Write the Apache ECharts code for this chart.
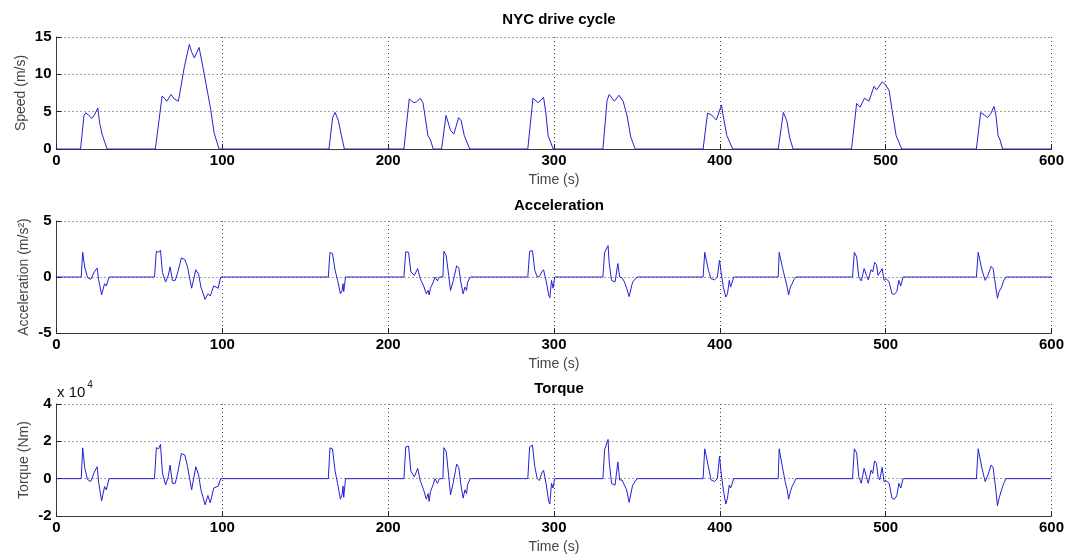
<!DOCTYPE html>
<html><head><meta charset="utf-8">
<script src="https://cdn.jsdelivr.net/npm/echarts@6/dist/echarts.min.js"></script>
<style>html,body{margin:0;padding:0;background:#fff}#c{width:1077px;height:560px}</style>
</head><body><div id="c"></div>
<script>
// ---- Data ----
const titles = ['NYC drive cycle', 'Acceleration', 'Torque'];
const timeLabelName = 'Time (s)';

// Speed (m/s)
const speedTime = [
  0, 14.5, 16.6, 17.6, 19.5, 21.4, 23, 24.9, 26, 27.6, 30.5,
  59.6, 63.7, 65, 66.5, 69.1, 71, 73.5, 77.1, 80.1, 81.5, 83.1, 86, 88.6, 93, 95, 98,
  164.3, 166.5, 168, 170, 172, 173.6,
  209.5, 212.7, 215.4, 217, 219.3, 221, 222.5, 224, 225.5, 227.2,
  232.2, 234.9, 237.6, 239.6, 242.5, 244, 245.9, 247, 249.2,
  284.2, 287.3, 290.5, 293.7, 295, 296.5, 297.5, 299.5,
  329.5, 332, 333.3, 336.4, 339.2, 341.7, 344, 346.3, 349,
  389.9, 392.6, 394.7, 397.9, 399, 401, 402, 404.2, 407.8,
  435.2, 438.3, 440.5, 442.1, 444.2,
  479.4, 482.5, 484.6, 487.2, 489.9, 493, 494.5, 497.9, 500, 502.1, 504, 506.3, 509.7,
  554.7, 557.3, 561.5, 563.5, 565.3, 566.5, 567.8, 569, 570.5, 600
];
const speedValue = [
  0, 0, 4.5, 4.85, 4.5, 4.1, 4.6, 5.5, 3.5, 1.9, 0,
  0, 7.1, 6.8, 6.4, 7.3, 6.7, 6.4, 11.0, 14.0, 13.0, 12.2, 13.6, 10.6, 5.3, 2.2, 0,
  0, 4.2, 4.9, 3.8, 1.6, 0,
  0, 6.7, 6.2, 6.3, 6.8, 6.2, 4.0, 1.8, 1.2, 0,
  0, 4.5, 2.5, 2.0, 4.2, 3.8, 1.8, 1.2, 0,
  0, 6.8, 6.2, 6.9, 5.0, 1.7, 1.2, 0,
  0, 6.5, 7.3, 6.4, 7.2, 6.4, 4.5, 1.6, 0,
  0, 4.8, 4.6, 3.9, 4.1, 5.9, 4.5, 1.8, 0,
  0, 4.9, 3.7, 1.5, 0,
  0, 6.1, 5.6, 6.8, 6.4, 8.4, 7.9, 9.0, 8.6, 7.8, 5.0, 1.8, 0,
  0, 4.9, 4.2, 4.8, 5.7, 4.5, 1.8, 1.2, 0, 0
];

// Sample times shared by acceleration and torque traces
const dynTime = [
  0, 14.9, 15.8, 17, 18.7, 20.7, 22.8, 24.5, 25.5, 27.2, 28, 29, 30, 31.7,
  59.1, 60.2, 61.6, 62.7, 63.9, 65.8, 67.4, 68.5, 69.9, 71.6, 73.2, 75.3, 77.4, 79, 81.5, 84, 85.7, 87.1, 89.6, 91.3, 92.7, 94.8, 97.5, 99,
  163.9, 164.9, 166.4, 168, 169.5, 171.2, 172.2, 172.8, 173.2, 174.3,
  209.5, 210.6, 212.3, 213.7, 215.8, 217.8, 219.3, 221.4, 223, 224.1, 224.7, 225.5, 227.2, 228.2, 229.7, 230.9, 233, 233.6, 235, 236.5, 237.6, 239.3, 241.3, 242.6, 243.8, 245.2, 246.3, 247.3, 247.9, 249.6,
  284.2, 285.3, 287, 288.4, 289.9, 291.2, 292.6, 293.7, 295.2, 296.8, 297.5, 298.5, 299.4, 300.4,
  329.5, 330.5, 331.6, 332.6, 333.3, 334.7, 336.8, 338.5, 339.6, 341, 342.5, 343.8, 345.3, 346.3, 347.4, 348.4, 350.1,
  389.9, 390.9, 392, 393.1, 394.7, 396.8, 398.5, 399.8, 400.6, 402.1, 403.6, 404.6, 405.7, 406.5, 408.4,
  435.2, 435.8, 436.8, 437.9, 439.4, 440.6, 441.5, 442.5, 443.6, 444.6, 445.9,
  480, 481.1, 482.5, 483.8, 485.3, 487, 488.4, 489.5, 491.2, 492.2, 493.3, 494.5, 495.4, 496.4, 497.9, 499, 500.4, 502.1, 503.8, 505.3, 506.7, 508, 509.1, 510.5,
  554.7, 555.8, 556.8, 558.1, 560, 561.7, 563.6, 564.8, 566.1, 567.4, 568.4, 569.9, 571.2, 572.6, 600
];
// Acceleration (m/s^2)
const accelValue = [
  0, 0, 2.2, 0.9, -0.05, -0.2, 0.45, 0.8, -0.3, -1.6, -1.5, -0.6, -0.8, 0,
  0, 2.3, 2.2, 2.4, 0.4, -0.45, 0.15, 0.9, -0.3, -0.3, 0.45, 1.7, 1.55, 0.9, -1.0, 0.65, 0.25, -0.9, -2.0, -1.5, -1.7, -0.8, -1.0, 0,
  0, 2.2, 2.1, 0.6, -0.3, -1.5, -1.2, -0.6, -1.3, 0,
  0, 2.25, 2.2, 0.45, 0.15, 0.75, -0.15, -0.8, -1.5, -1.2, -1.6, -1.0, -0.45, 0, -0.35, 0, 0, 2.3, 1.9, 0.15, -1.2, -0.3, 1.0, 0.8, -0.45, -1.5, -0.9, -1.2, -0.45, 0,
  0, 2.3, 2.35, 0.6, 0, 0.05, 0.45, 0.65, -0.3, -1.6, -1.85, -0.3, -1.0, 0,
  0, 2.2, 2.1, 2.8, 1.2, -0.3, -0.45, 1.2, 0, -0.05, -0.45, -1.0, -1.75, -1.6, -0.45, -0.3, 0,
  0, 2.2, 2.15, 0.6, -0.15, -0.25, 0, 1.5, 0.6, -0.9, -1.8, -1.5, -0.3, -0.9, 0,
  0, 2.2, 2.1, 0.75, -0.15, -0.9, -1.6, -0.9, -0.6, -0.25, 0,
  0, 2.2, 1.8, 0, -0.35, 0.75, 0.15, -0.25, 0.65, 0.45, 1.3, 1.1, 0.15, 0, 0.75, -0.3, -0.15, -0.45, -1.5, -1.55, -1.3, -0.3, -0.8, 0,
  0, 2.2, 2.15, 0.6, -0.3, 0.15, 0.95, 0.75, -0.6, -1.9, -1.3, -0.9, -0.3, 0, 0
];
// Torque (x 10^4 Nm)
const torqueValue = [
  0, 0, 1.65, 0.6, -0.05, -0.15, 0.35, 0.64, -0.25, -1.19, -1.1, -0.42, -0.6, 0,
  0, 1.66, 1.6, 1.84, 0.3, -0.34, 0.1, 0.73, -0.25, -0.25, 0.35, 1.35, 1.26, 0.65, -0.6, 0.64, 0.2, -0.6, -1.4, -0.9, -1.3, -0.5, -0.4, 0,
  0, 1.65, 1.6, 0.4, -0.25, -1.1, -0.85, -0.4, -1.0, 0,
  0, 1.7, 1.75, 0.4, 0.1, 0.55, -0.1, -0.6, -1.1, -0.8, -1.22, -0.7, -0.3, 0, -0.25, 0, 0, 1.66, 1.45, 0.15, -0.87, -0.2, 0.78, 0.6, -0.3, -1.04, -0.6, -0.8, -0.3, 0,
  0, 1.7, 1.8, 0.65, 0, -0.1, 0.3, 0.45, -0.25, -1.22, -1.36, -0.25, -0.5, 0,
  0, 1.55, 1.6, 2.1, 0.9, -0.25, -0.35, 0.9, -0.07, -0.07, -0.35, -0.6, -1.27, -1.22, -0.35, -0.25, 0,
  0, 1.6, 1.6, 0.64, -0.07, -0.15, 0, 1.2, 0.46, -0.6, -1.36, -1.04, -0.34, -0.5, 0,
  0, 1.6, 1.58, 0.55, -0.15, -0.6, -1.1, -0.7, -0.42, -0.25, 0,
  0, 1.6, 1.38, 0.1, -0.25, 0.55, 0.1, -0.25, 0.46, 0.28, 0.95, 0.8, 0.1, -0.07, 0.6, -0.16, -0.12, -0.25, -1.04, -1.1, -0.92, -0.25, -0.5, 0,
  0, 1.6, 1.58, 0.55, -0.16, 0.2, 0.73, 0.6, -0.34, -1.45, -1.04, -0.6, -0.25, 0, 0
];

const yNames = ['Speed (m/s)', 'Acceleration (m/s²)', 'Torque (Nm)'];
const yRanges = [[0, 15, 5], [-5, 5, 5], [-2, 4, 2]];

// ---- Chart ----
const FONT = 'Liberation Sans, Arial, sans-serif';
const LINE = '#2222d4';
const gridTops = [37, 221, 404];
const GRID_H = 112;

function xAxis(i) {
  return {
    type: 'value', gridIndex: i, min: 0, max: 600, interval: 100,
    name: timeLabelName, nameLocation: 'middle', nameGap: 24, nameMoveOverlap: false,
    nameTextStyle: { fontFamily: FONT, fontSize: 14, color: '#454545' },
    axisLine: { onZero: false, lineStyle: { color: '#3a3a3a', width: 1 } },
    axisTick: { inside: true, length: 5, lineStyle: { color: '#222' } },
    axisLabel: { fontFamily: FONT, fontWeight: 'bold', fontSize: 15, color: '#000', margin: 4 },
    splitLine: { show: true, showMinLine: false, lineStyle: { color: '#444', type: [1, 3], width: 1 } }
  };
}
function yAxis(i) {
  const r = yRanges[i];
  return {
    type: 'value', gridIndex: i, min: r[0], max: r[1], interval: r[2],
    name: yNames[i], nameLocation: 'middle', nameGap: [28, 25, 25][i], nameRotate: 90, nameMoveOverlap: false,
    nameTextStyle: { fontFamily: FONT, fontSize: 14, color: '#454545' },
    axisLine: { show: true, onZero: false, lineStyle: { color: '#3a3a3a', width: 1 } },
    axisTick: { show: true, inside: true, length: 5, lineStyle: { color: '#222' } },
    axisLabel: { fontFamily: FONT, fontWeight: 'bold', fontSize: 15, color: '#000', margin: 5 },
    splitLine: { show: true, showMinLine: false, lineStyle: { color: '#444', type: [1, 3], width: 1 } }
  };
}
function pairs(ts, vs) { return ts.map((t, k) => [t, vs[k]]); }
function line(i, data) {
  return {
    type: 'line', xAxisIndex: i, yAxisIndex: i, data: data,
    showSymbol: false, symbol: 'none', smooth: false,
    lineStyle: { color: LINE, width: 1 }, itemStyle: { color: LINE },
    silent: true, z: 3
  };
}

const titleTops = [7, 193, 376];
const chart = echarts.init(document.getElementById('c'), null, { renderer: 'canvas' });
chart.setOption({
  animation: false,
  backgroundColor: '#fff',
  title: titles.map((t, i) => ({
    text: t, left: 554, top: titleTops[i], textAlign: 'center',
    textStyle: { fontFamily: FONT, fontWeight: 'bold', fontSize: 15, color: '#000' }
  })),
  grid: gridTops.map(t => ({ left: 56.5, right: 25.5, top: t, height: GRID_H, containLabel: false })),
  xAxis: [0, 1, 2].map(xAxis),
  yAxis: [0, 1, 2].map(yAxis),
  series: [
    line(0, pairs(speedTime, speedValue)),
    line(1, pairs(dynTime, accelValue)),
    line(2, pairs(dynTime, torqueValue))
  ],
  graphic: [{
    type: 'text', left: 57, top: 380,
    style: {
      text: '{a|x 10}{b|4}',
      rich: {
        a: { fontFamily: FONT, fontSize: 15, fill: '#111', verticalAlign: 'bottom', lineHeight: 20 },
        b: { fontFamily: FONT, fontSize: 10, fill: '#111', verticalAlign: 'top', lineHeight: 20, padding: [0, 0, 9, 2] }
      }
    }
  }]
});
</script>
</body></html>
